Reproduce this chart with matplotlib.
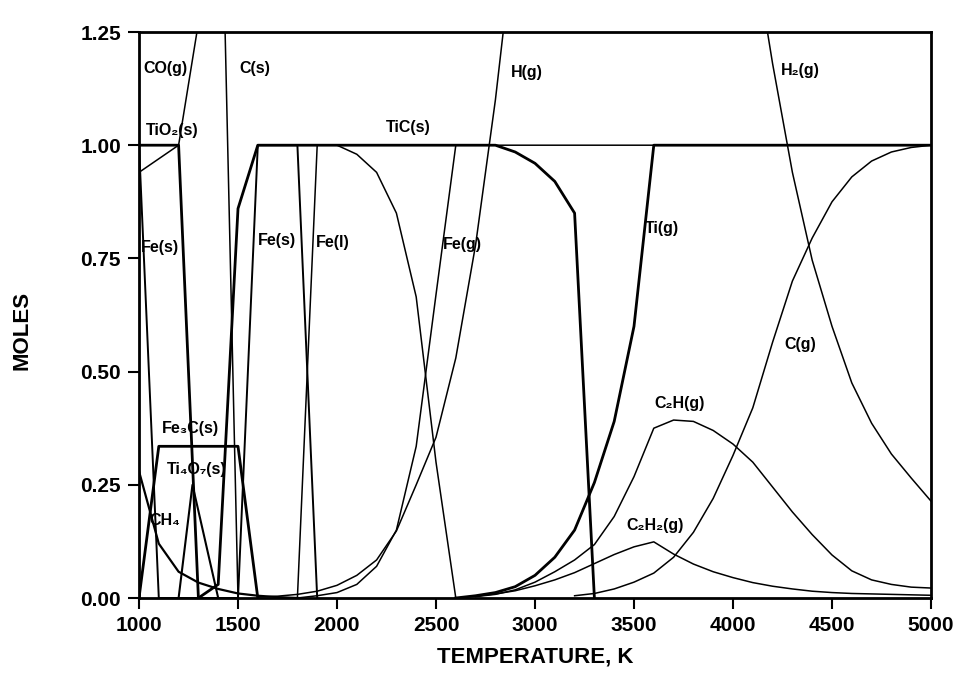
import matplotlib
matplotlib.use("Agg")
import matplotlib.pyplot as plt

# equilibrium moles (mostly 100 K steps)
T_CO = [1000, 1100, 1200, 1300, 1400]
CO = [0.94, 0.97, 1.00, 1.27, 2.00]

T_CS = [1300, 1400, 1500]
CS = [2.20, 1.92, 0.00]

T_TIO2 = [1000, 1100, 1200, 1300]
TIO2 = [1.00, 1.00, 1.00, 0.00]

T_TI4O7 = [1200, 1270, 1400]
TI4O7 = [0.00, 0.25, 0.00]

T_FE3C = [1000, 1100, 1200, 1300, 1400, 1500, 1600]
FE3C = [0.00, 0.335, 0.335, 0.335, 0.335, 0.335, 0.00]

T_CH4 = [1000, 1100, 1200, 1300, 1400, 1500, 1600, 1700, 1800]
CH4 = [0.28, 0.12, 0.058, 0.034, 0.020, 0.010, 0.005, 0.002, 0.00]

T_FES = [1000, 1100, 1500, 1600, 1700, 1800, 1900]
FES = [1.00, 0.00, 0.00, 1.00, 1.00, 1.00, 0.00]

T_FEL = [1800, 1900, 2000, 2100, 2200, 2300, 2400, 2500, 2600]
FEL = [0.00, 1.00, 1.00, 0.98, 0.94, 0.85, 0.665, 0.30, 0.00]

T_FEG = [1800, 1900, 2000, 2100, 2200, 2300, 2400, 2500, 2600, 5000]
FEG = [0.00, 0.005, 0.012, 0.03, 0.07, 0.15, 0.335, 0.67, 1.00, 1.00]

T_TIC = [1300, 1400, 1500, 1600, 2800, 2900, 3000, 3100, 3200, 3300]
TIC = [0.00, 0.03, 0.86, 1.00, 1.00, 0.985, 0.96, 0.92, 0.85, 0.00]

T_H = [1600, 1700, 1800, 1900, 2000, 2100, 2200, 2300, 2400, 2500,
       2600, 2700, 2800, 2900, 3000]
H = [0.002, 0.004, 0.008, 0.015, 0.028, 0.05, 0.084, 0.148, 0.25, 0.355,
     0.53, 0.78, 1.10, 1.48, 1.90]

T_TIG = [2600, 2700, 2800, 2900, 3000, 3100, 3200, 3300, 3400, 3500, 3600, 5000]
TIG = [0.00, 0.005, 0.012, 0.025, 0.05, 0.09, 0.15, 0.255, 0.39, 0.60, 1.00, 1.00]

T_GAS = [2700, 2800, 2900, 3000, 3100, 3200, 3300, 3400, 3500, 3600, 3700, 3800,
         3900, 4000, 4100, 4200, 4300, 4400, 4500, 4600, 4700, 4800, 4900, 5000]
C2H = [0.003, 0.008, 0.018, 0.035, 0.058, 0.084, 0.118, 0.18, 0.268, 0.375, 0.393, 0.39,
       0.37, 0.34, 0.30, 0.245, 0.19, 0.14, 0.095, 0.06, 0.04, 0.03, 0.024, 0.022]
C2H2 = [0.004, 0.009, 0.016, 0.027, 0.04, 0.056, 0.076, 0.096, 0.113, 0.124, 0.097, 0.075,
        0.058, 0.045, 0.034, 0.026, 0.02, 0.015, 0.012, 0.01, 0.009, 0.008, 0.007, 0.006]

T_CG = [3200, 3300, 3400, 3500, 3600, 3700, 3800, 3900, 4000, 4100,
        4200, 4300, 4400, 4500, 4600, 4700, 4800, 4900, 5000]
CG = [0.005, 0.01, 0.02, 0.035, 0.055, 0.09, 0.145, 0.22, 0.315, 0.42,
      0.565, 0.70, 0.795, 0.875, 0.93, 0.965, 0.985, 0.995, 1.00]

T_H2 = [4000, 4100, 4200, 4300, 4400, 4500, 4600, 4700, 4800, 4900, 5000]
H2 = [1.72, 1.45, 1.18, 0.94, 0.746, 0.60, 0.475, 0.386, 0.318, 0.265, 0.214]

X_TICKS = [1000, 1500, 2000, 2500, 3000, 3500, 4000, 4500, 5000]
Y_TICKS = [0.00, 0.25, 0.50, 0.75, 1.00, 1.25]

# (text, T, moles) for the species labels
LABELS = [
    ("CO(g)", 1131, 1.17), ("C(s)", 1586, 1.17), ("H(g)", 2959, 1.16),
    ("H₂(g)", 4338, 1.166), ("TiO₂(s)", 1170, 1.033), ("TiC(s)", 2358, 1.038),
    ("Fe(s)", 1106, 0.773), ("Fe(s)", 1697, 0.79), ("Fe(l)", 1980, 0.786),
    ("Fe(g)", 2631, 0.78), ("Ti(g)", 3641, 0.817), ("C(g)", 4338, 0.559),
    ("C₂H(g)", 3732, 0.43), ("C₂H₂(g)", 3606, 0.161), ("Fe₃C(s)", 1258, 0.375),
    ("Ti₄O₇(s)", 1293, 0.283), ("CH₄", 1131, 0.172),
]

plt.rcParams["font.family"] = ["Liberation Sans", "DejaVu Sans"]

fig = plt.figure(figsize=(9.57, 6.76), dpi=100)
ax = fig.add_axes([139 / 957, 1 - 598 / 676, 792 / 957, 566 / 676])

thin = dict(color="black", lw=1.1)
thick = dict(color="black", lw=2.0)

ax.plot(T_CO, CO, **thin)
ax.plot(T_CS, CS, **thin)
ax.plot(T_TIO2, TIO2, **thick)
ax.plot(T_TI4O7, TI4O7, color="black", lw=1.5)
ax.plot(T_FE3C, FE3C, **thick)
ax.plot(T_CH4, CH4, color="black", lw=1.6)
ax.plot(T_FES, FES, color="black", lw=1.4)
ax.plot(T_FEL, FEL, **thin)
ax.plot(T_FEG, FEG, **thin)
ax.plot(T_TIC, TIC, **thick)
ax.plot(T_H, H, **thin)
ax.plot(T_TIG, TIG, **thick)
ax.plot(T_GAS, C2H, **thin)
ax.plot(T_GAS, C2H2, **thin)
ax.plot(T_CG, CG, **thin)
ax.plot(T_H2, H2, **thin)

for txt, t, m in LABELS:
    ax.text(t, m, txt, ha="center", va="center", fontsize=11.5, fontweight="bold")

ax.set_xlim(1000, 5000)
ax.set_ylim(0, 1.25)
ax.set_xticks(X_TICKS)
ax.set_xticklabels([str(v) for v in X_TICKS])
ax.set_yticks(Y_TICKS)
ax.set_yticklabels([f"{v:.2f}" for v in Y_TICKS])
ax.tick_params(direction="out", length=8, width=1.5, labelsize=15, pad=5)
for lab in ax.get_xticklabels() + ax.get_yticklabels():
    lab.set_fontweight("bold")
for sp in ax.spines.values():
    sp.set_linewidth(2)

ax.set_xlabel("TEMPERATURE, K", fontsize=16, fontweight="bold", labelpad=8)
fig.text(22 / 957, 1 - 330 / 676, "MOLES", rotation=90, ha="center", va="center",
         fontsize=16, fontweight="bold")

fig.savefig("out.png", dpi=100)
